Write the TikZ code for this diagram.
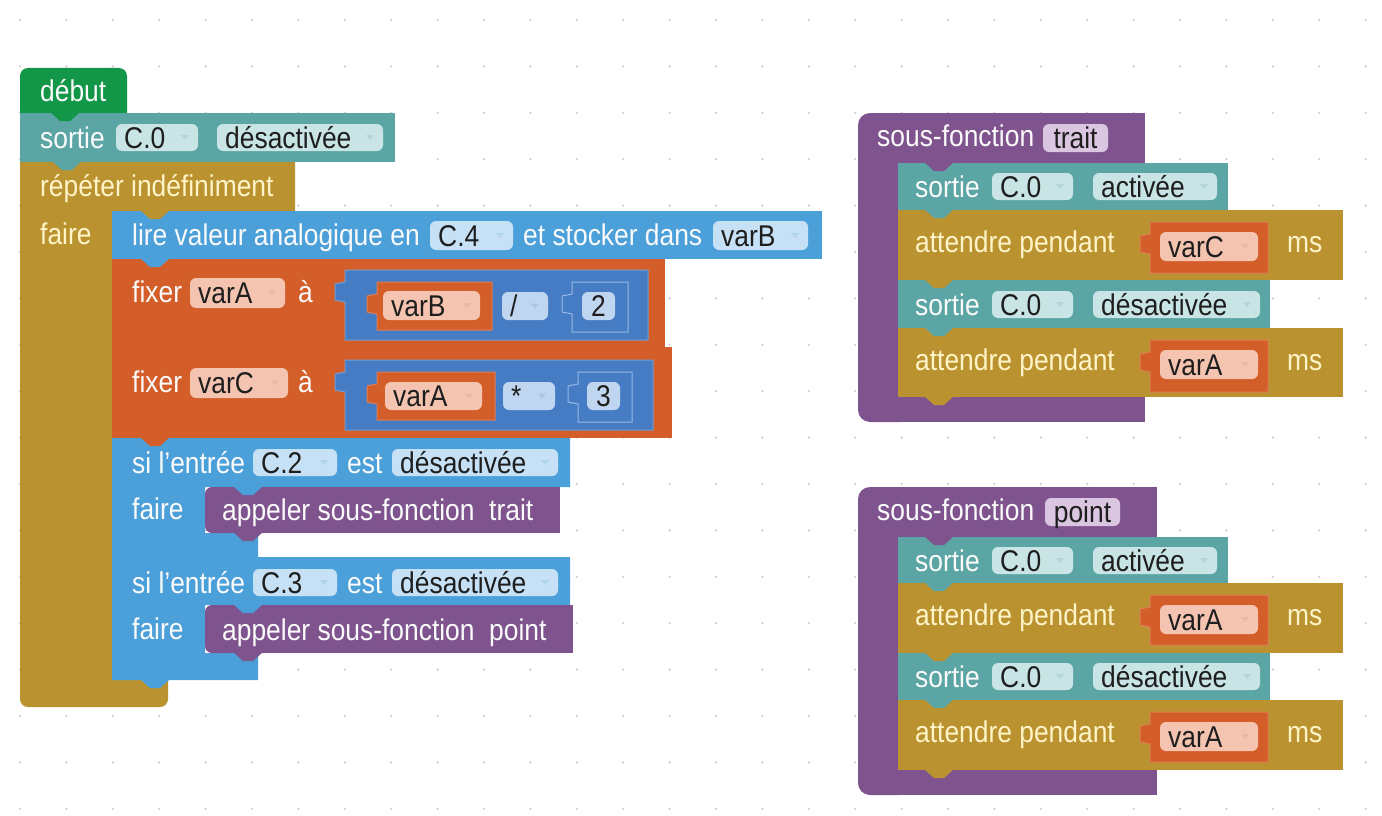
\documentclass[tikz,border=0pt]{standalone}
\usepackage{fontspec}
\setmainfont{Liberation Sans}[FakeStretch=0.88]

% block colours
\definecolor{dotc}{RGB}{210,210,210}
\definecolor{cgreen}{RGB}{18,150,72}
\definecolor{cteal}{RGB}{91,165,165}
\definecolor{colive}{RGB}{186,147,48}
\definecolor{cblue}{RGB}{76,160,218}
\definecolor{corange}{RGB}{212,94,42}
\definecolor{cmath}{RGB}{70,124,195}
\definecolor{cpurple}{RGB}{127,84,142}
% field colours
\definecolor{fteal}{RGB}{200,228,228}
\definecolor{fblue}{RGB}{198,225,245}
\definecolor{forange}{RGB}{245,196,176}
\definecolor{fmath}{RGB}{192,213,240}
\definecolor{fpurple}{RGB}{218,198,224}
% dropdown arrows
\colorlet{ateal}{cteal!45!white}
\colorlet{ablue}{cblue!45!white}
\colorlet{aorange}{corange!45!white}
\colorlet{amath}{cmath!45!white}
% outlines of value blocks
\colorlet{mathline}{cmath!75!white}
\colorlet{orangeline}{corange!80!white}
\definecolor{shadowline}{RGB}{150,185,230}
% text
\definecolor{lbl}{RGB}{250,250,250}
\definecolor{lblolive}{RGB}{255,244,200}
\definecolor{fieldtext}{RGB}{30,30,30}

\newcounter{nd}
\tikzset{
  lbltxt/.style={inner sep=0pt, anchor=base west, font=\fontsize{30}{36}\selectfont},
  fldtxt/.style={lbltxt, text=fieldtext},
}

% straight apostrophe
\newcommand\sq{\symbol{39}}
% text label on a block
\newcommand\BLlabel[4]{\stepcounter{nd}\node[lbltxt,text=#1] (n\arabic{nd}) at (#2,#3) {#4};}
% dropdown field: fill, arrow colour, x1, y1, x2, y2, text
\newcommand\BLdrop[7]{%
  \fill[#1,rounded corners=6] (#3,#4) rectangle (#5,#6);
  \stepcounter{nd}\node[fldtxt] (n\arabic{nd}) at (#3+8,{(#4+#6)/2+10.5}) {#7};
  \fill[#2] (#5-17,{(#4+#6)/2-2.5}) -- (#5-9,{(#4+#6)/2-2.5}) -- (#5-13,{(#4+#6)/2+2.5}) -- cycle;}
% plain field with centred text: fill, x1, y1, x2, y2, text
\newcommand\BLfield[6]{%
  \fill[#1,rounded corners=6] (#2,#3) rectangle (#4,#5);
  \stepcounter{nd}\node[fldtxt,anchor=base] (n\arabic{nd}) at ({(#2+#4)/2},{(#3+#5)/2+10.5}) {#6};}
% tab hanging below a statement block: colour, x, y
\newcommand\BLnext[3]{%
  \fill[#1] (#2,#3-1) -- (#2+10,#3+8) -- (#2+20,#3+8) -- (#2+30,#3-1) -- cycle;}
% value block with its output tab: fill, outline, x1, y1, x2, y2
\newcommand\BLvalue[6]{%
  \filldraw[fill=#1,draw=#2,line width=1pt] (#3,#4) -- (#5,#4) -- (#5,#6) -- (#3,#6)
    -- (#3,#4+32) -- (#3-10,#4+30) -- (#3-10,#4+14) -- (#3,#4+12) -- cycle;}
% procedure call block, rounded on its left side: x1, y1, x2, y2
\newcommand\BLcall[4]{%
  \fill[cpurple,rounded corners=7] (#1,#2) rectangle (#1+30,#4);
  \fill[cpurple] (#1+15,#2) rectangle (#3,#4);}

\begin{document}
\begin{tikzpicture}[x=1pt,y=-1pt]
\useasboundingbox (0,0) rectangle (1382,816);
\fill[white] (0,0) rectangle (1382,816);

% workspace grid
\foreach \i in {0,...,29}{\foreach \j in {0,...,17}{%
  \fill[dotc] ({20+46.4*\i},{20+46.4*\j}) circle (1.3);}}

% ---------- main program ----------
\fill[cgreen,rounded corners=8] (20,68) rectangle (127,125);
\fill[cteal] (20,113) rectangle (395,162);
\fill[colive] (20,162) -- (295,162) -- (295,211) -- (112,211) -- (112,680) -- (20,680) -- cycle;
\fill[colive,rounded corners=8] (20,650) rectangle (168,707);
\fill[cblue] (112,211) rectangle (822,259);
\fill[corange] (112,259) rectangle (665,347);
\fill[corange] (112,347) rectangle (672,438);
\fill[cblue] (112,438) -- (570,438) -- (570,487) -- (205,487) -- (205,533) -- (258,533) -- (258,557) -- (112,557) -- cycle;
\fill[cblue] (112,557) -- (570,557) -- (570,605) -- (205,605) -- (205,653) -- (258,653) -- (258,680) -- (112,680) -- cycle;
\BLcall{205}{487}{560}{533}
\BLcall{205}{605}{573}{653}

% value blocks of the two assignments
\BLvalue{cmath}{mathline}{345}{270}{648}{340}
\BLvalue{corange}{orangeline}{377}{282}{492}{330}
\BLvalue{cmath}{shadowline}{572}{282}{628}{332}
\BLvalue{cmath}{mathline}{345}{360}{653}{430}
\BLvalue{corange}{orangeline}{377}{372}{495}{420}
\BLvalue{cmath}{shadowline}{578}{372}{632}{422}

% ---------- sub-function "trait" ----------
\fill[cpurple,rounded corners=12] (858,113) rectangle (912,422);
\fill[cpurple] (870,113) rectangle (1145,163);
\fill[cpurple] (870,397) rectangle (1145,422);
\fill[cteal] (898,163) rectangle (1228,210);
\fill[colive] (898,210) rectangle (1343,280);
\fill[cteal] (898,280) rectangle (1270,328);
\fill[colive] (898,328) rectangle (1343,397);
\BLvalue{corange}{orangeline}{1150}{222}{1268}{273}
\BLvalue{corange}{orangeline}{1150}{340}{1268}{392}

% ---------- sub-function "point" ----------
\fill[cpurple,rounded corners=12] (858,487) rectangle (912,795);
\fill[cpurple] (870,487) rectangle (1157,537);
\fill[cpurple] (870,770) rectangle (1157,795);
\fill[cteal] (898,537) rectangle (1228,583);
\fill[colive] (898,583) rectangle (1343,653);
\fill[cteal] (898,653) rectangle (1270,700);
\fill[colive] (898,700) rectangle (1343,770);
\BLvalue{corange}{orangeline}{1150}{595}{1268}{645}
\BLvalue{corange}{orangeline}{1150}{712}{1268}{762}

% ---------- connection tabs ----------
\BLnext{cgreen}{50}{113}
\BLnext{cteal}{52}{162}
\BLnext{colive}{140}{211}
\BLnext{cblue}{140}{259}
\BLnext{corange}{140}{347}
\BLnext{corange}{140}{438}
\BLnext{cblue}{233}{487}
\BLnext{cpurple}{233}{533}
\BLnext{cblue}{140}{557}
\BLnext{cblue}{233}{605}
\BLnext{cpurple}{233}{653}
\BLnext{cblue}{140}{680}
\BLnext{cpurple}{924}{163}
\BLnext{cteal}{924}{210}
\BLnext{colive}{924}{280}
\BLnext{cteal}{924}{328}
\BLnext{colive}{924}{397}
\BLnext{cpurple}{924}{537}
\BLnext{cteal}{924}{583}
\BLnext{colive}{924}{653}
\BLnext{cteal}{924}{700}
\BLnext{colive}{924}{770}

% ---------- texts and fields: main program ----------
\BLlabel{lbl}{40}{101}{début}
\BLlabel{lbl}{40}{148}{sortie}
\BLdrop{fteal}{ateal}{116}{124}{198}{151}{C.0}
\BLdrop{fteal}{ateal}{217}{124}{383}{151}{désactivée}
\BLlabel{lblolive}{40}{196}{répéter indéfiniment}
\BLlabel{lblolive}{40}{244}{faire}
\BLlabel{lbl}{132}{245}{lire valeur analogique en}
\BLdrop{fblue}{ablue}{430}{221}{513}{250}{C.4}
\BLlabel{lbl}{523}{245}{et stocker dans}
\BLdrop{fblue}{ablue}{713}{221}{808}{250}{varB}

\BLlabel{lbl}{132}{302}{fixer}
\BLdrop{forange}{aorange}{190}{278}{285}{308}{varA}
\BLlabel{lbl}{298}{302}{à}
\BLdrop{forange}{aorange}{383}{291}{480}{320}{varB}
\BLdrop{fmath}{amath}{502}{292}{548}{320}{/}
\BLfield{fmath}{582}{292}{615}{320}{2}

\BLlabel{lbl}{132}{392}{fixer}
\BLdrop{forange}{aorange}{190}{368}{288}{398}{varC}
\BLlabel{lbl}{298}{392}{à}
\BLdrop{forange}{aorange}{385}{382}{482}{410}{varA}
\BLdrop{fmath}{amath}{503}{382}{555}{410}{*}
\BLfield{fmath}{587}{382}{620}{410}{3}

\BLlabel{lbl}{132}{473}{si l\sq entrée}
\BLdrop{fblue}{ablue}{253}{449}{337}{476}{C.2}
\BLlabel{lbl}{347}{473}{est}
\BLdrop{fblue}{ablue}{392}{449}{558}{476}{désactivée}
\BLlabel{lbl}{132}{519}{faire}
\BLlabel{lbl}{222}{520}{appeler sous-fonction\ \ trait}

\BLlabel{lbl}{132}{593}{si l\sq entrée}
\BLdrop{fblue}{ablue}{253}{569}{337}{596}{C.3}
\BLlabel{lbl}{347}{593}{est}
\BLdrop{fblue}{ablue}{392}{569}{558}{596}{désactivée}
\BLlabel{lbl}{132}{639}{faire}
\BLlabel{lbl}{222}{640}{appeler sous-fonction\ \ point}

% ---------- texts and fields: "trait" ----------
\BLlabel{lbl}{877}{146}{sous-fonction}
\BLfield{fpurple}{1043}{124}{1108}{152}{trait}
\BLlabel{lbl}{915}{197}{sortie}
\BLdrop{fteal}{ateal}{992}{173}{1073}{200}{C.0}
\BLdrop{fteal}{ateal}{1093}{173}{1217}{200}{activée}
\BLlabel{lblolive}{915}{252}{attendre pendant}
\BLdrop{forange}{aorange}{1160}{232}{1258}{261}{varC}
\BLlabel{lblolive}{1287}{252}{ms}
\BLlabel{lbl}{915}{315}{sortie}
\BLdrop{fteal}{ateal}{992}{291}{1073}{318}{C.0}
\BLdrop{fteal}{ateal}{1093}{291}{1260}{318}{désactivée}
\BLlabel{lblolive}{915}{370}{attendre pendant}
\BLdrop{forange}{aorange}{1160}{350}{1258}{379}{varA}
\BLlabel{lblolive}{1287}{370}{ms}

% ---------- texts and fields: "point" ----------
\BLlabel{lbl}{877}{520}{sous-fonction}
\BLfield{fpurple}{1045}{498}{1120}{526}{point}
\BLlabel{lbl}{915}{571}{sortie}
\BLdrop{fteal}{ateal}{992}{547}{1073}{574}{C.0}
\BLdrop{fteal}{ateal}{1093}{547}{1217}{574}{activée}
\BLlabel{lblolive}{915}{625}{attendre pendant}
\BLdrop{forange}{aorange}{1160}{605}{1258}{634}{varA}
\BLlabel{lblolive}{1287}{625}{ms}
\BLlabel{lbl}{915}{687}{sortie}
\BLdrop{fteal}{ateal}{992}{663}{1073}{690}{C.0}
\BLdrop{fteal}{ateal}{1093}{663}{1260}{690}{désactivée}
\BLlabel{lblolive}{915}{742}{attendre pendant}
\BLdrop{forange}{aorange}{1160}{722}{1258}{751}{varA}
\BLlabel{lblolive}{1287}{742}{ms}
\end{tikzpicture}
\end{document}
